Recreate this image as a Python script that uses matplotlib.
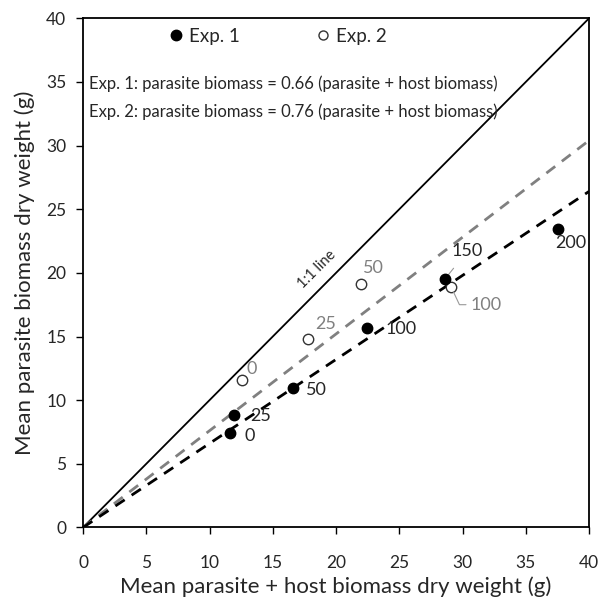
import matplotlib
matplotlib.use("Agg")
import matplotlib.pyplot as plt
import numpy as np

plt.rcParams['font.family'] = ['Lato', 'DejaVu Sans']

# Data
exp1_x = [11.62, 11.96, 16.62, 22.47, 28.63, 37.57]
exp1_y = [7.40, 8.84, 10.93, 15.70, 19.54, 23.43]
exp1_labels = ["0", "25", "50", "100", "150", "200"]
exp2_x = [12.57, 17.76, 21.98, 29.09]
exp2_y = [11.59, 14.81, 19.10, 18.92]
exp2_labels = ["0", "25", "50", "100"]
slope1 = 0.66
slope2 = 0.76
xticks = [0, 5, 10, 15, 20, 25, 30, 35, 40]
yticks = [0, 5, 10, 15, 20, 25, 30, 35, 40]

grey = "#808080"
tc = "#262626"

fig = plt.figure(figsize=(5.98, 6.04), dpi=100)
ax = fig.add_axes([0.1388, 0.1267, 0.8462, 0.8430])
ax.set_xlim(0, 40)
ax.set_ylim(0, 40)

lx = np.array([0, 40])
ax.plot(lx, lx, color="black", lw=1.3, zorder=2)
ax.plot(lx, slope2 * lx, color=grey, lw=2, dashes=(4, 3), zorder=2)
ax.plot(lx, slope1 * lx, color="black", lw=2, dashes=(4, 3), zorder=2)

ax.plot(exp1_x, exp1_y, 'o', color="black", ms=7.5, zorder=4, label="Exp. 1")
ax.plot(exp2_x, exp2_y, 'o', mfc="white", mec="#333333", mew=1.0, ms=7.5, zorder=3, label="Exp. 2")

fs_ann = 13
# annotations
off1 = [(14, -2), (19, -1), (17, -1), (24, -1), (16, 20), (9, -10)]
for x, y, s, o in zip(exp1_x, exp1_y, exp1_labels, off1):
    if s == "150":
        ax.annotate(s, (x, y), xytext=o, textcoords='offset points', ha='center', va='center',
                    fontsize=fs_ann, color=tc,
                    arrowprops=dict(arrowstyle='-', color="#999999", lw=0.8, shrinkA=6, shrinkB=3))
    else:
        ax.annotate(s, (x, y), xytext=o, textcoords='offset points', ha='center', va='center',
                    fontsize=fs_ann, color=tc)
off2 = [(7, 8), (13, 11), (9, 12), (25, -13)]
for x, y, s, o in zip(exp2_x, exp2_y, exp2_labels, off2):
    if s == "100":
        ax.annotate(s, (x, y), xytext=o, textcoords='offset points', ha='center', va='center',
                    fontsize=fs_ann, color=grey,
                    arrowprops=dict(arrowstyle='-', color="#999999", lw=0.8, shrinkA=1, shrinkB=4,
                                    connectionstyle="angle,angleA=0,angleB=115,rad=0"))
    else:
        ax.annotate(s, (x, y), xytext=o, textcoords='offset points', ha='center', va='center',
                    fontsize=fs_ann, color=grey)

ax.text(18.5, 20.3, "1:1 line", rotation=45, rotation_mode='anchor', ha='center', va='center',
        fontsize=10.5, color=tc, transform=ax.transData)

ax.text(0.5, 34.9, "Exp. 1: parasite biomass = 0.66 (parasite + host biomass)", fontsize=12,
        color=tc, ha='left', va='center')
ax.text(0.5, 32.7, "Exp. 2: parasite biomass = 0.76 (parasite + host biomass)", fontsize=12,
        color=tc, ha='left', va='center')

leg = ax.legend(loc='upper left', bbox_to_anchor=(0.14, 1.015), ncol=2, frameon=False,
                fontsize=13.5, handlelength=0.6, handletextpad=0.4, columnspacing=4.1,
                labelcolor=tc)
leg.legend_handles[1].set_markersize(6.5)
leg.legend_handles[0].set_markersize(7.5)

ax.set_xticks(xticks)
ax.set_yticks(yticks)
ax.tick_params(direction='out', length=5, width=1, labelsize=12.5, labelcolor=tc)
ax.tick_params(axis='x', pad=15)
ax.tick_params(axis='y', pad=7)
for sp in ax.spines.values():
    sp.set_linewidth(1.3)
ax.set_xlabel("Mean parasite + host biomass dry weight (g)", fontsize=16, color=tc, labelpad=4)
ax.set_ylabel("Mean parasite biomass dry weight (g)", fontsize=16, color=tc, labelpad=8)

fig.savefig("out.png", dpi=100)
